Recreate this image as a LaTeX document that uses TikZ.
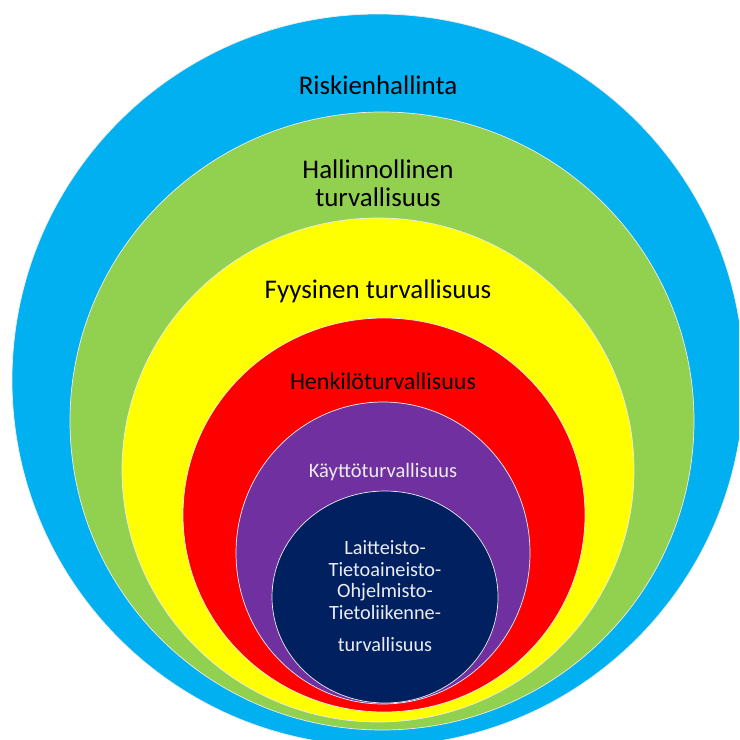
\documentclass[tikz,border=0pt]{standalone}
\usepackage{fontspec}
\setmainfont{Carlito}

\definecolor{riski}{HTML}{00B0F0}
\definecolor{hallinto}{HTML}{92D050}
\definecolor{fyysinen}{HTML}{FFFF00}
\definecolor{henkilo}{HTML}{FF0000}
\definecolor{kaytto}{HTML}{7030A0}
\definecolor{laite}{HTML}{002060}
\definecolor{vaalea}{HTML}{ECECF4}

\tikzset{
  kerros/.style={draw=white!85!gray, line width=0.6pt},
  otsikko/.style={font=\fontsize{23}{28}\selectfont, text=black, align=center}
}

\begin{document}
\begin{tikzpicture}[x=0.03cm, y=-0.03cm]

% Kehys
\useasboundingbox (0,0) rectangle (739,740);
\clip (0,0) rectangle (739,740);

% Sisäkkäiset ellipsit
\filldraw[kerros, fill=riski]    (378,380) ellipse [x radius=366, y radius=366];
\filldraw[kerros, fill=hallinto] (382,421) ellipse [x radius=312, y radius=309];
\filldraw[kerros, fill=fyysinen] (378,470) ellipse [x radius=256, y radius=252];
\filldraw[kerros, fill=henkilo]  (384,515) ellipse [x radius=201, y radius=197];
\filldraw[kerros, fill=kaytto]   (383,553) ellipse [x radius=147, y radius=151];
\filldraw[kerros, fill=laite]    (385,597) ellipse [x radius=113, y radius=106];

% Tekstit
\node[otsikko] (riskit) at (378,85) {Riskienhallinta};
\node[otsikko, font=\fontsize{23}{24}\selectfont] (hallinto) at (378,183)
  {Hallinnollinen\\turvallisuus};
\node[otsikko] (fyysinen) at (378,291) {Fyysinen turvallisuus};
\node[otsikko, font=\fontsize{20.5}{24}\selectfont] (henkilo) at (383,381)
  {Henkilöturvallisuus};
\node[otsikko, text=vaalea, font=\fontsize{17.5}{20}\selectfont] (kaytto) at (383,472)
  {Käyttöturvallisuus};

% Sisin ympyrä
\node[otsikko, text=vaalea, font=\fontsize{17.3}{18.3}\selectfont] (laite) at (385,596)
  {Laitteisto-\\Tietoaineisto-\\Ohjelmisto-\\Tietoliikenne-\\[9pt]turvallisuus};

\end{tikzpicture}
\end{document}
